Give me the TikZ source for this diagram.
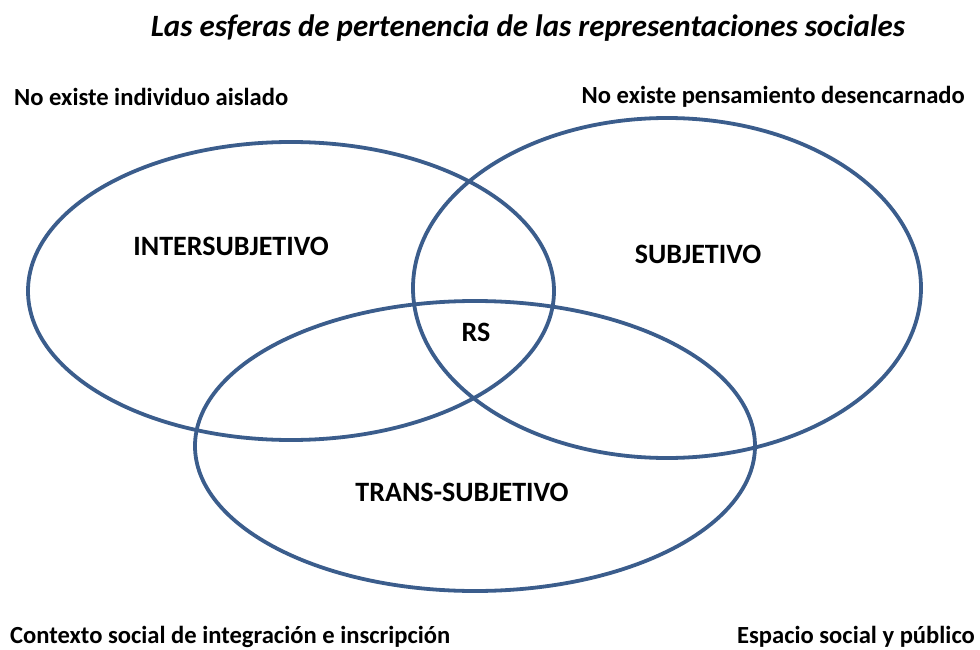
\documentclass[tikz,border=0pt]{standalone}
\usepackage{fontspec}
\setmainfont{Carlito}
\usepackage{tikz}
\usetikzlibrary{positioning}
\definecolor{esferaazul}{RGB}{59,93,140}

\begin{document}
\begin{tikzpicture}[x=1pt,y=-1pt,
        esfera/.style={draw=esferaazul,line width=3.8pt},
        rotulo/.style={font=\fontsize{24.6}{28}\selectfont\bfseries,inner sep=0pt},
        zona/.style={font=\fontsize{28}{32}\selectfont\bfseries,inner sep=0pt}]
        \useasboundingbox (0,0) rectangle (980,650);

        % esferas
        \draw[esfera] (291,291) ellipse [x radius=263pt,y radius=149pt];
        \draw[esfera] (667,288) ellipse [x radius=254pt,y radius=170pt];
        \draw[esfera] (475,446) ellipse [x radius=280pt,y radius=145pt];

        \node[font=\fontsize{31}{36}\selectfont\bfseries\itshape,inner sep=0pt] (titulo) at (528,28) {Las esferas de pertenencia de las representaciones sociales};

        \node[rotulo,anchor=west] (individuo) at (14,97) {No existe individuo aislado};
        \node[rotulo,anchor=east] (pensamiento) at (965,97) {No existe pensamiento desencarnado};
        \node[rotulo,anchor=west] (contexto) at (10,637) {Contexto social de integración e inscripción};
        \node[rotulo,anchor=east] (espacio) at (975,637) {Espacio social y público};

        \node[zona] (inter) at (231,246) {INTERSUBJETIVO};
        \node[zona] (subj) at (698,254) {SUBJETIVO};
        \node[zona] (rs) at (476,332) {RS};
        \node[zona] (trans) at (462,492) {TRANS-SUBJETIVO};
      \end{tikzpicture}
\end{document}
